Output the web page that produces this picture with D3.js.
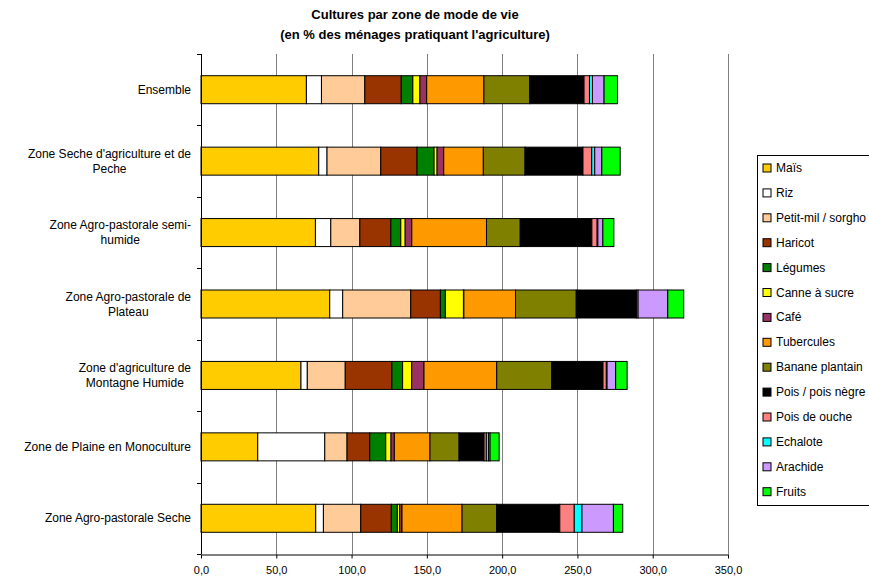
<!DOCTYPE html>
<html>
<head>
<meta charset="utf-8">
<script src="https://cdn.jsdelivr.net/npm/d3@7/dist/d3.min.js"></script>
<style>
  body { margin: 0; background: #fff; }
  svg { display: block; font-family: Arial, "Liberation Sans", sans-serif; }
</style>
</head>
<body>
<svg id="chart" width="869" height="579"></svg>
<script>
// Livelihood zones (top to bottom)
const zones = [
  ["Ensemble"],
  ["Zone Seche d'agriculture et de", "Peche"],
  ["Zone Agro-pastorale semi-", "humide"],
  ["Zone Agro-pastorale de", "Plateau"],
  ["Zone d'agriculture de", "Montagne Humide"],
  ["Zone de Plaine en Monoculture"],
  ["Zone Agro-pastorale Seche"]
];

// Crops, in stacking order
const crops = ["Maïs", "Riz", "Petit-mil / sorgho", "Haricot", "Légumes", "Canne à sucre", "Café",
  "Tubercules", "Banane plantain", "Pois / pois nègre", "Pois de ouche", "Echalote", "Arachide", "Fruits"];

const cropColors = ["#FFCC00", "#FFFFFF", "#FFCC99", "#993300", "#008000", "#FFFF00", "#993366",
  "#FF9900", "#808000", "#000000", "#FF8080", "#00FFFF", "#CC99FF", "#00FF00"];

// % of farming households growing each crop, one array per zone (same order as crops)
const ensemble       = [70.0, 10.0, 28.8, 24.2, 7.7, 4.7, 4.5, 38.0, 30.4, 36.1, 3.6, 2.0, 7.7, 8.9];
const secheAgriPeche = [78.2, 5.5, 35.7, 24.1, 11.3, 2.0, 4.4, 26.3, 27.7, 38.5, 5.8, 2.0, 4.7, 12.2];
const agroSemiHumide = [76.0, 10.2, 19.3, 20.6, 6.6, 2.9, 4.4, 49.6, 22.4, 47.6, 3.5, 0.5, 3.3, 7.3];
const agroPlateau    = [85.5, 8.6, 45.2, 19.7, 3.3, 12.0, 0.3, 34.3, 40.3, 40.1, 1.0, 0.0, 19.7, 10.6];
const montagneHumide = [66.4, 4.2, 25.2, 31.0, 7.1, 6.0, 8.2, 48.3, 36.5, 34.1, 2.2, 0.5, 5.7, 7.6];
const plaineMono     = [37.7, 44.5, 14.8, 15.1, 10.6, 3.5, 2.2, 23.7, 19.3, 16.6, 1.5, 1.5, 1.0, 6.0];
const agroSeche      = [76.2, 5.1, 24.8, 20.3, 4.0, 1.5, 1.6, 39.9, 23.0, 41.9, 9.6, 5.1, 20.9, 6.2];

const zoneValues = [ensemble, secheAgriPeche, agroSemiHumide, agroPlateau, montagneHumide, plaineMono, agroSeche];

const xTicks = [0, 50, 100, 150, 200, 250, 300, 350];

const titleLines = ["Cultures par zone de mode de vie", "(en % des ménages pratiquant l'agriculture)"];

// ---------------------------------------------------------------
const svg = d3.select("#chart");
const plot = { left: 201, right: 728, top: 54, bottom: 554 };

const x = d3.scaleLinear().domain([0, 350]).range([plot.left, plot.right]);
const yBand = d3.scaleBand().domain(d3.range(zones.length)).range([plot.top, plot.bottom]);
const barH = 28;
const barY = i => yBand(i) + (yBand.bandwidth() - barH) / 2;

// Title
svg.append("g").selectAll("text").data(titleLines).join("text")
  .attr("x", 415).attr("y", (d, i) => 19 + i * 19.5)
  .attr("text-anchor", "middle")
  .attr("font-size", 13).attr("font-weight", "bold")
  .text(d => d);

// Vertical gridlines
svg.append("g").selectAll("line").data(xTicks.slice(1)).join("line")
  .attr("x1", d => Math.round(x(d)) + 0.5).attr("x2", d => Math.round(x(d)) + 0.5)
  .attr("y1", plot.top).attr("y2", plot.bottom)
  .attr("stroke", "#808080").attr("stroke-width", 1);

// Stacked bars
const rows = zoneValues.map((vals, zi) => {
  let acc = 0;
  return vals.map((v, ci) => {
    const seg = { zi, ci, x0: acc, x1: acc + v };
    acc += v;
    return seg;
  });
});

svg.append("g").selectAll("g").data(rows).join("g")
  .selectAll("rect").data(d => d.filter(s => s.x1 > s.x0)).join("rect")
  .attr("x", d => x(d.x0))
  .attr("y", d => barY(d.zi))
  .attr("width", d => x(d.x1) - x(d.x0))
  .attr("height", barH)
  .attr("fill", d => cropColors[d.ci])
  .attr("stroke", "#000").attr("stroke-width", 1);

// X axis
const fmt = d3.format(".1f");
const xAxis = d3.axisBottom(x).tickValues(xTicks).tickSize(4).tickSizeOuter(0)
  .tickFormat(d => fmt(d).replace(".", ","));
const gx = svg.append("g").attr("transform", `translate(0,${plot.bottom + 0.5})`).call(xAxis);
gx.select(".domain").attr("stroke", "#000");
gx.selectAll(".tick line").attr("stroke", "#000");
gx.selectAll("text").attr("font-size", 11).attr("font-family", "Arial, 'Liberation Sans', sans-serif").attr("fill", "#000").attr("dy", "1.1em");

// Y axis line with ticks at category boundaries
svg.append("line")
  .attr("x1", plot.left + 0.5).attr("x2", plot.left + 0.5)
  .attr("y1", plot.top).attr("y2", plot.bottom)
  .attr("stroke", "#000");
svg.append("g").selectAll("line").data(d3.range(zones.length + 1)).join("line")
  .attr("x1", plot.left - 4).attr("x2", plot.left)
  .attr("y1", i => Math.round(plot.top + i * yBand.step()) + 0.5)
  .attr("y2", i => Math.round(plot.top + i * yBand.step()) + 0.5)
  .attr("stroke", "#000");

// Category labels (multi-line blocks, lines centred within a right-aligned block)
const labelRight = 191;
zones.forEach((lines, zi) => {
  const cy = barY(zi) + barH / 2;
  const g = svg.append("g");
  const texts = g.selectAll("text").data(lines).join("text")
    .attr("font-size", 12)
    .attr("y", (d, i) => cy + (i - (lines.length - 1) / 2) * 15 + 4)
    .text(d => d);
  let maxW = 0;
  texts.each(function () { maxW = Math.max(maxW, this.getComputedTextLength()); });
  texts.attr("x", labelRight - maxW / 2).attr("text-anchor", "middle");
});

// Legend
const legend = svg.append("g").attr("transform", "translate(757,155)");
legend.append("rect")
  .attr("x", 0.5).attr("y", 0.5).attr("width", 125).attr("height", 350)
  .attr("fill", "#fff").attr("stroke", "#000");
const items = legend.selectAll("g.item").data(crops).join("g").attr("class", "item")
  .attr("transform", (d, i) => `translate(6,${13 + i * 24.9})`);
items.append("rect")
  .attr("x", 0).attr("y", -4).attr("width", 8).attr("height", 8)
  .attr("fill", (d, i) => cropColors[i]).attr("stroke", "#000");
items.append("text")
  .attr("x", 13).attr("y", 4).attr("font-size", 12)
  .text(d => d);
</script>
</body>
</html>
